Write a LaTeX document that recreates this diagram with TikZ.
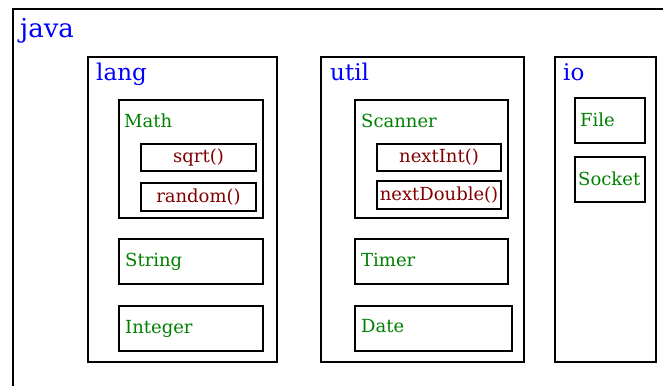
\documentclass[tikz,border=0pt]{standalone}
\usepackage{fontspec}
\setmainfont{DejaVu Serif}
\usetikzlibrary{positioning}

\definecolor{pkgblue}{RGB}{0,0,255}
\definecolor{clsgreen}{RGB}{0,128,0}
\definecolor{methred}{RGB}{128,0,0}

\begin{document}
\begin{tikzpicture}[x=1pt,y=-1pt,
    box/.style={draw,line width=2pt,inner sep=0,anchor=north west},
    pkg/.style={inner sep=0,anchor=base west,text=pkgblue,font=\fontsize{23}{27}\selectfont},
    cls/.style={inner sep=0,anchor=base west,text=clsgreen,font=\fontsize{18}{21}\selectfont},
    meth/.style={inner sep=0,text=methred,font=\fontsize{18}{21}\selectfont}]
    \useasboundingbox (0,0) rectangle (663,385);
    \clip (0,0) rectangle (663,385);

    % outer package
    \node[box,minimum width=660,minimum height=390] (java) at (12,8) {};
    \node[pkg,font=\fontsize{26}{30}\selectfont] (javaT) at (20,38) {java};

    % lang
    \node[box,minimum width=189,minimum height=305] (lang) at (87,56) {};
    \node[pkg] (langT) at (96,81) {lang};
    \node[box,minimum width=144,minimum height=118] (math) at (118,99) {};
    \node[cls] (mathT) at (124,127) {Math};
    \node[box,minimum width=115,minimum height=27] (sqrt) at (140,143) {};
    \node[meth] at (sqrt.center) {sqrt()};
    \node[box,minimum width=115,minimum height=28] (random) at (140,182) {};
    \node[meth] at (random.center) {random()};
    \node[box,minimum width=144,minimum height=45] (string) at (118,238) {};
    \node[cls] (stringT) at (125,266) {String};
    \node[box,minimum width=144,minimum height=45] (integer) at (118,305) {};
    \node[cls] (integerT) at (125,333) {Integer};

    % util
    \node[box,minimum width=203,minimum height=305] (util) at (320,56) {};
    \node[pkg] (utilT) at (330,81) {util};
    \node[box,minimum width=153,minimum height=118] (scanner) at (354,99) {};
    \node[cls] (scannerT) at (361,127) {Scanner};
    \node[box,minimum width=124,minimum height=27] (nextint) at (376,143) {};
    \node[meth] at (nextint.center) {nextInt()};
    \node[box,minimum width=124,minimum height=28] (nextdouble) at (376,180) {};
    \node[meth] at (nextdouble.center) {nextDouble()};
    \node[box,minimum width=153,minimum height=45] (timer) at (354,238) {};
    \node[cls] (timerT) at (361,266) {Timer};
    \node[box,minimum width=157,minimum height=45] (date) at (354,305) {};
    \node[cls] (dateT) at (361,332) {Date};

    % io
    \node[box,minimum width=101,minimum height=305] (io) at (554,56) {};
    \node[pkg] (ioT) at (563,81) {io};
    \node[box,minimum width=70,minimum height=45] (file) at (574,97) {};
    \node[cls] (fileT) at (580,126) {File};
    \node[box,minimum width=70,minimum height=45] (socket) at (574,156) {};
    \node[cls] (socketT) at (578,185) {Socket};
\end{tikzpicture}
\end{document}
